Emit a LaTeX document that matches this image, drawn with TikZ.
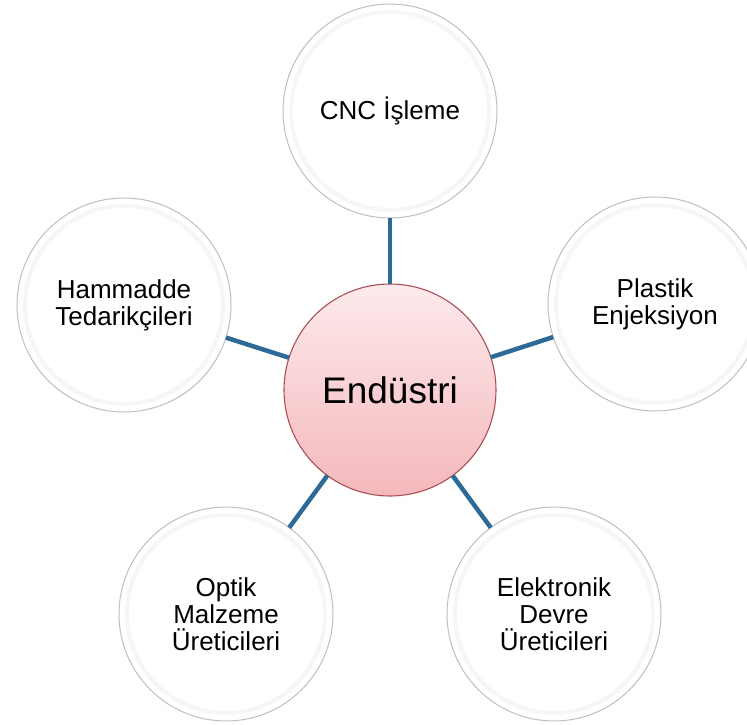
\documentclass[tikz,border=0pt]{standalone}
\usepackage{fontspec}
\setmainfont{Liberation Sans}
\usetikzlibrary{shadings}

\definecolor{linkblue}{RGB}{46,106,152}
\definecolor{hubtop}{RGB}{253,234,236}
\definecolor{hubbottom}{RGB}{244,184,188}
\definecolor{hubrim}{RGB}{170,80,84}

\begin{document}
\begin{tikzpicture}[x=1pt,y=-1pt,
    hub/.style={circle,minimum size=212pt,inner sep=0pt,outer sep=0pt,
      top color=hubtop,bottom color=hubbottom,draw=hubrim,line width=1.1pt,
      font=\fontsize{37}{39}\selectfont},
    spoke/.style={circle,minimum size=214pt,inner sep=0pt,outer sep=0pt,
      fill=white,draw=gray!50,line width=1pt,align=center,
      font=\fontsize{26}{27}\selectfont},
    rim/.style={draw=gray!7,line width=4pt},
    link/.style={draw=linkblue,line width=4.5pt}]
  \useasboundingbox (0,0) rectangle (747,724);
  %% outer circles
  \node[spoke] (cnc) at (390,111) {CNC İşleme};
  \node[spoke] (ham) at (124,305) {Hammadde\\Tedarikçileri};
  \node[spoke] (pla) at (655,304) {Plastik\\Enjeksiyon};
  \node[spoke] (opt) at (226,614) {Optik\\Malzeme\\Üreticileri};
  \node[spoke] (ele) at (554,614) {Elektronik\\Devre\\Üreticileri};
  %% soft inner rim
  \foreach \n in {cnc,ham,pla,opt,ele}
    \draw[rim] (\n) circle (99);
  %% centre
  \node[hub] (ind) at (390,390) {Endüstri};
  %% connectors
  \foreach \n in {cnc,ham,pla,opt,ele}
    \draw[link] (ind) -- (\n);
\end{tikzpicture}
\end{document}
